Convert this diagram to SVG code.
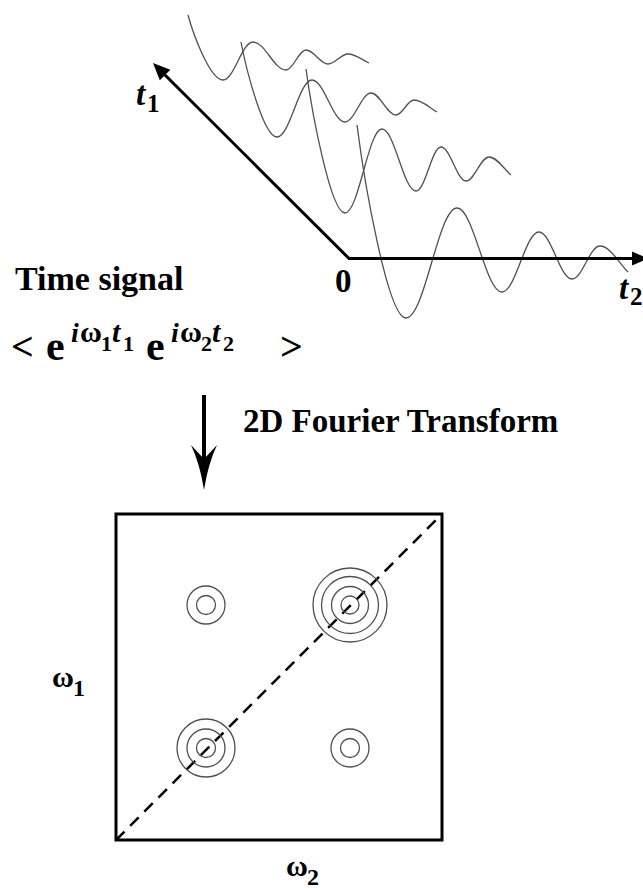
<svg xmlns="http://www.w3.org/2000/svg" width="643" height="890" viewBox="0 0 643 890">
<style>
.t{font-family:"Liberation Serif","Times New Roman",serif;font-weight:bold;fill:#000}
.it{font-style:italic}
.wave{fill:none;stroke:#505050;stroke-width:1.3}
.ring{fill:none;stroke:#505050;stroke-width:1.3}
.axis{fill:none;stroke:#000;stroke-width:3;stroke-linejoin:miter}
</style>
<rect width="643" height="890" fill="#fff"/>
<g id="waves">
<path class="wave" d="M188,15 C193.3,34.5 210,80 223,80 C234.1,80 241.9,42 253,42 C265.2,42 273.8,70 286,70 C293.4,70 298.6,50 306,50 C314.1,50 319.9,64 328,64 C335.4,64 340.6,54 348,54 C355.8,54 362.7,60.3 369,63"/>
<path class="wave" d="M241,42 C246.4,70.5 263.7,137 277,137 C290,137 299,80 312,80 C324.2,80 332.8,122 345,122 C354.6,122 361.4,93 371,93 C380.3,93 386.8,115 396,115 C402.7,115 407.3,100 414,100 C422.5,100 430.1,108.4 437,112"/>
<path class="wave" d="M306,69 C311.9,112.2 330.6,213 345,213 C358.7,213 368.3,129 382,129 C394.6,129 403.4,191 416,191 C425.3,191 431.8,147 441,147 C450.3,147 456.8,181 466,181 C474.5,181 480.5,157 489,157 C497.1,157 504.4,169.6 511,175"/>
<path class="wave" d="M357,125 C364.4,182.9 387.9,318 406,318 C424.9,318 438.1,208 457,208 C473.7,208 485.4,292 502,292 C515.7,292 525.3,232 539,232 C551.2,232 559.8,279 572,279 C582.4,279 589.6,246 600,246 C610.4,246 619.6,264.2 628,272"/>
</g>
<g id="axes">
<polyline class="axis" points="165,75 349,258.5 634,258.5"/>
<polygon points="153,63 170.3,69.7 159.8,80.3" fill="#000"/>
<polygon points="648,258.5 632,251.5 632,265.5" fill="#000"/>
<text class="t"><tspan x="136" y="105" font-size="33" font-style="italic">t</tspan><tspan x="147" y="112" font-size="25">1</tspan></text>
<text class="t" x="335" y="292" font-size="33">0</text>
<text class="t"><tspan x="619" y="299" font-size="33" font-style="italic">t</tspan><tspan x="630" y="305" font-size="25">2</tspan></text>
</g>
<g id="time-signal">
<text class="t" x="15" y="290" font-size="34">Time signal</text>
<text class="t"><tspan x="11" y="360" font-size="40">&lt;</tspan><tspan x="46" y="360" font-size="42">e</tspan><tspan x="71" y="342" font-size="28" font-style="italic">i</tspan><tspan x="80" y="342" font-size="30">ω</tspan><tspan x="101" y="351" font-size="22">1</tspan><tspan x="112" y="342" font-size="30" font-style="italic">t</tspan><tspan x="123" y="351" font-size="22">1</tspan><tspan x="146" y="360" font-size="42">e</tspan><tspan x="171" y="342" font-size="28" font-style="italic">i</tspan><tspan x="180" y="342" font-size="30">ω</tspan><tspan x="201" y="351" font-size="22">2</tspan><tspan x="212" y="342" font-size="30" font-style="italic">t</tspan><tspan x="223" y="351" font-size="22">2</tspan><tspan x="280" y="360" font-size="40">&gt;</tspan></text>
</g>
<g id="connectors">
<line x1="204" y1="395" x2="204" y2="462" stroke="#000" stroke-width="4"/>
<path d="M204,490 Q200,464 191,445 L204,459 L217,445 Q208,464 204,490 Z" fill="#000"/>
</g>
<g id="transform-label">
<text class="t" x="243" y="432" font-size="33">2D Fourier Transform</text>
</g>
<g id="spectrum">
<rect x="116" y="514" width="326" height="326" fill="none" stroke="#000" stroke-width="3"/>
<line x1="116" y1="840" x2="442" y2="514" stroke="#000" stroke-width="2.5" stroke-dasharray="12,8"/>
<g id="peak-ul"><circle class="ring" cx="206" cy="605" r="9.5"/><circle class="ring" cx="206" cy="605" r="19"/></g>
<g id="peak-ur"><circle class="ring" cx="350" cy="605" r="9"/><circle class="ring" cx="350" cy="605" r="18.5"/><circle class="ring" cx="350" cy="605" r="28.5"/><circle class="ring" cx="350" cy="605" r="37"/></g>
<g id="peak-ll"><circle class="ring" cx="206" cy="748" r="9.5"/><circle class="ring" cx="206" cy="748" r="19"/><circle class="ring" cx="206" cy="748" r="29"/></g>
<g id="peak-lr"><circle class="ring" cx="350" cy="748" r="9.5"/><circle class="ring" cx="350" cy="748" r="19"/></g>
<text class="t"><tspan x="52" y="687" font-size="30">ω</tspan><tspan x="73" y="696" font-size="24">1</tspan></text>
<text class="t"><tspan x="286" y="876" font-size="30">ω</tspan><tspan x="307" y="885" font-size="24">2</tspan></text>
</g>
</svg>
